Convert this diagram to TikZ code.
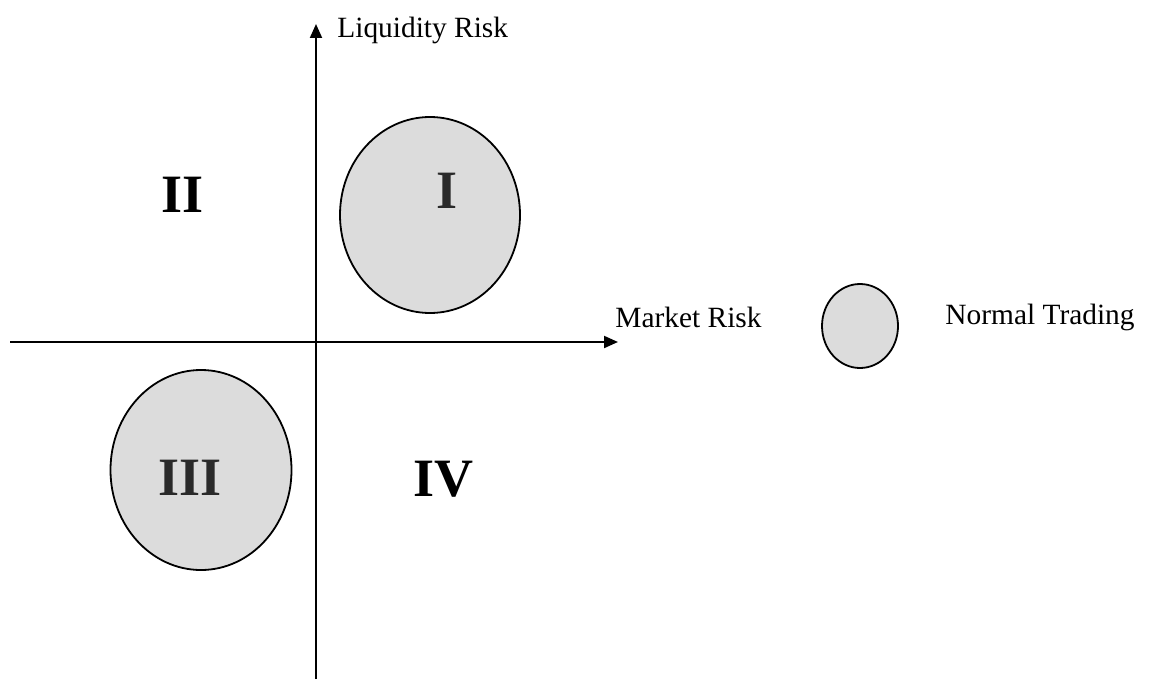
\documentclass[tikz,border=0pt]{standalone}
\usepackage{fontspec}
\setmainfont{Liberation Serif}
\usetikzlibrary{arrows.meta,shapes.geometric}

\begin{document}
\begin{tikzpicture}[x=0.5pt, y=-0.5pt]
    % Define colours
    \definecolor{borderColour}{HTML}{000000}
    \definecolor{fillColour}{HTML}{DCDCDC}
    \definecolor{numColour}{HTML}{2A2A2A}

    % Define styles
    \tikzset{
        axis/.style={line width=1pt, draw=borderColour, -{Triangle[length=7pt,width=6pt]}},
        region/.style={ellipse, draw=borderColour, line width=0.9pt, fill=fillColour, inner sep=0pt},
        axisLabel/.style={font=\fontsize{14.7}{17}\selectfont, inner sep=0pt},
        quadrant/.style={font=\fontsize{27}{30}\selectfont\bfseries, inner sep=0pt}
    }

    % Fix the page size
    \useasboundingbox (0,0) rectangle (1149,679);

    % Axis end points
    \coordinate (xStart) at (10,342);
    \coordinate (xEnd) at (618,342);
    \coordinate (yStart) at (316,679);
    \coordinate (yEnd) at (316,24);

    % Draw axes
    \draw[axis] (xStart) -- (xEnd);
    \draw[axis] (yStart) -- (yEnd);

    % Label axes
    \node[axisLabel, anchor=west] (liqLabel) at (337,30) {Liquidity Risk};
    \node[axisLabel, anchor=west] (mktLabel) at (615,317) {Market Risk};

    % Draw the regions (sizes in pt, half the pixel size)
    \node[region, minimum width=90, minimum height=98] (regionOne) at (430,215) {};
    \node[region, minimum width=90.5, minimum height=100] (regionThree) at (201,470) {};

    % Label the quadrants
    \node[quadrant, text=numColour] (quadOne) at (447,191) {I};
    \node[quadrant] (quadTwo) at (183,195) {II};
    \node[quadrant, text=numColour] (quadThree) at (190,478) {III};
    \node[quadrant] (quadFour) at (443,479) {IV};

    % Legend
    \node[region, minimum width=38, minimum height=42] (legendMark) at (860,326) {};
    \node[axisLabel, anchor=west] (legendLabel) at (945,317) {Normal Trading};

\end{tikzpicture}
\end{document}
